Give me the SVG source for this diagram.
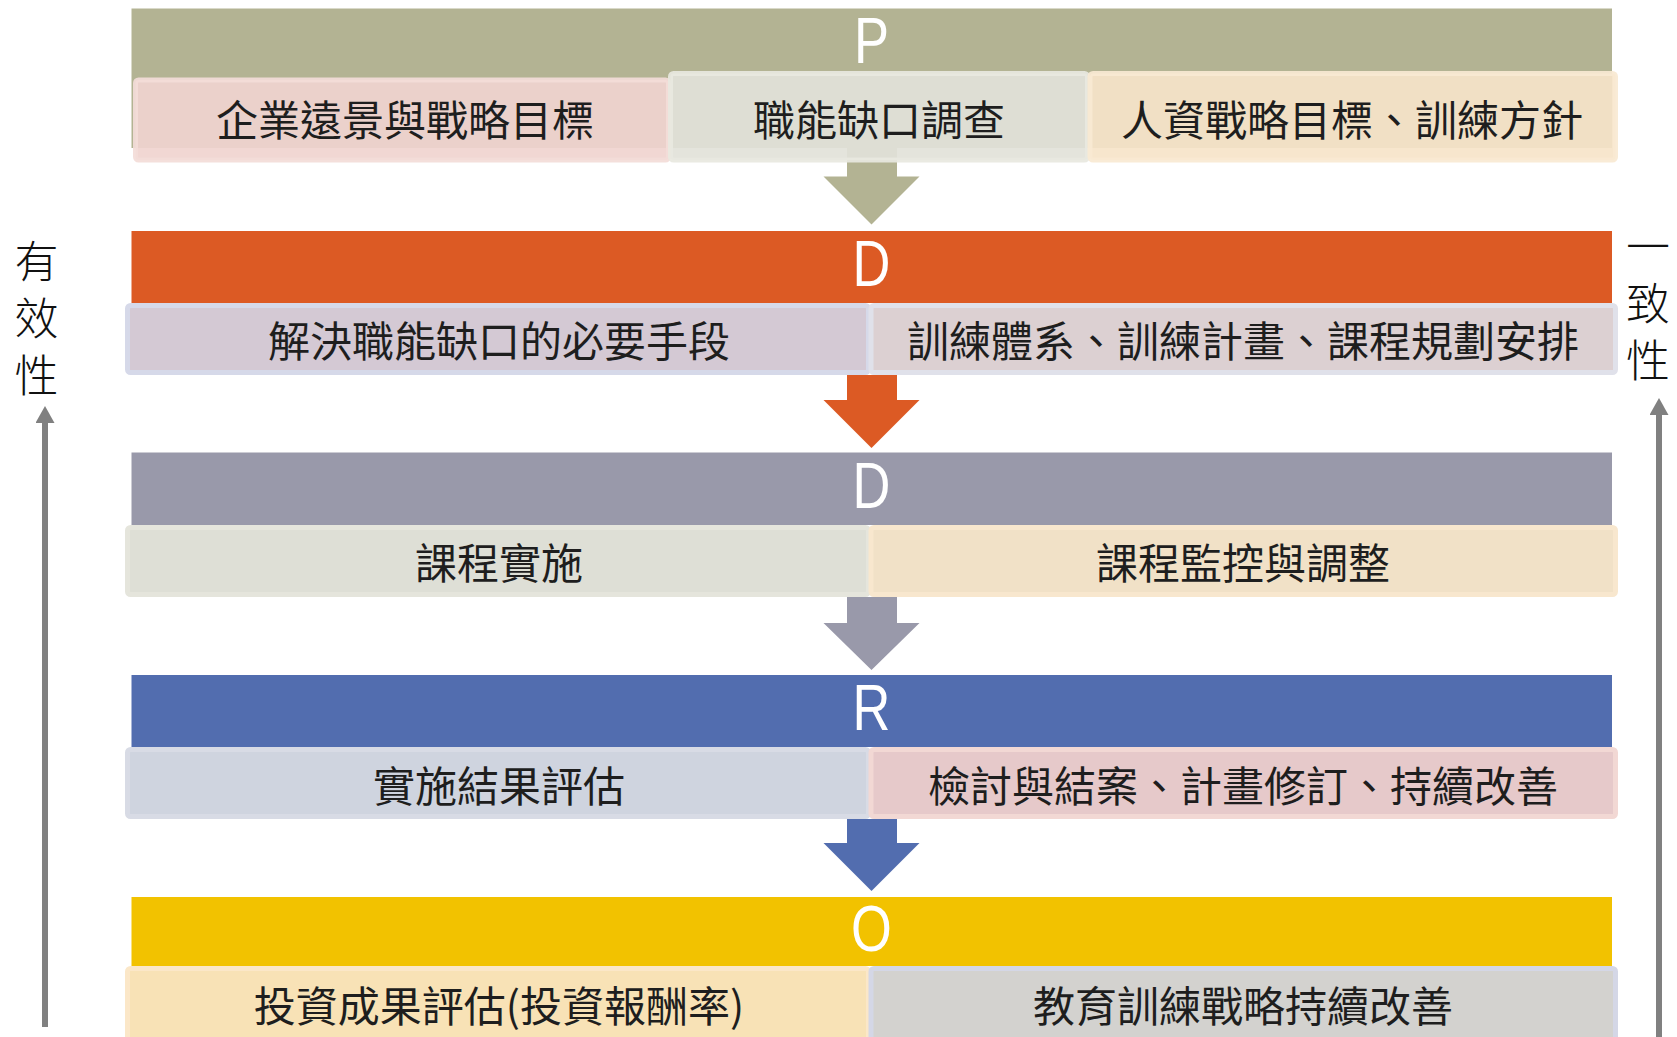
<svg xmlns="http://www.w3.org/2000/svg" width="1677" height="1037" viewBox="0 0 1677 1037">
<style>
.hdr{stroke:none}
.letter{font-family:"Liberation Sans","Arial",sans-serif;font-size:64px;fill:#ffffff;text-anchor:middle}
.lbl{font-family:"Noto Sans CJK TC","Noto Sans CJK SC",sans-serif;font-size:42px;fill:#1e1e1e;text-anchor:middle;dominant-baseline:central}
.side{font-family:"Noto Sans CJK TC","Noto Sans CJK SC",sans-serif;font-size:44px;fill:#111111;writing-mode:vertical-rl;letter-spacing:13px;font-weight:300}
.box{stroke-width:5}
.sideline{stroke:#808080;stroke-width:6;fill:none}
</style>
<defs>
<marker id="sidehead" markerUnits="userSpaceOnUse" markerWidth="20" markerHeight="20" viewBox="0 0 20 20" refX="1" refY="9.5" orient="auto">
<path d="M0,0 L17,9.5 L0,19 Z" fill="#808080"/>
</marker>
</defs>
<rect width="1677" height="1037" fill="#ffffff"/>

<g id="connectors">
<polygon points="847,148 897,148 897,176.5 919.5,176.5 871.5,224.5 823.5,176.5 847,176.5" fill="#b3b393"/>
<polygon points="847,375 897,375 897,400 919.5,400 871.5,448 823.5,400 847,400" fill="#dc5a24"/>
<polygon points="847,597 897,597 897,623 919.5,623 871.5,670 823.5,623 847,623" fill="#9999aa"/>
<polygon points="847,819 897,819 897,843 919.5,843 871.5,891 823.5,843 847,843" fill="#526daf"/>
<line class="sideline" x1="45" y1="1027" x2="45" y2="422" marker-end="url(#sidehead)"/>
<line class="sideline" x1="1659" y1="1037" x2="1659" y2="414" marker-end="url(#sidehead)"/>
</g>

<g id="node-P">
<rect class="hdr" x="131.5" y="8.5" width="1480.5" height="139.5" fill="#b3b393"/>
<text class="letter" transform="translate(871.5,63) scale(0.82,1)">P</text>
</g>
<g id="node-P-1">
<rect class="box" x="135.5" y="80" width="533" height="80" rx="3" fill="#f0d4cf" stroke="#f3dcd8" fill-opacity="0.92" stroke-opacity="0.92"/>
<text class="lbl" x="405" y="117.6">企業遠景與戰略目標</text>
</g>
<g id="node-P-2">
<rect class="box" x="670.5" y="73.5" width="417" height="86.5" rx="3" fill="#e2e2d9" stroke="#e8e8e0" fill-opacity="0.92" stroke-opacity="0.92"/>
<text class="lbl" x="879" y="117.6">職能缺口調查</text>
</g>
<g id="node-P-3">
<rect class="box" x="1090" y="73.5" width="525.5" height="86.5" rx="3" fill="#f6e4c9" stroke="#f8e9d2" fill-opacity="0.92" stroke-opacity="0.92"/>
<text class="lbl" x="1352" y="117.6">人資戰略目標、訓練方針</text>
</g>

<g id="node-D1">
<rect class="hdr" x="131.5" y="231" width="1480.5" height="72" fill="#dc5a24"/>
<text class="letter" transform="translate(871.5,286) scale(0.82,1)">D</text>
</g>
<g id="node-D1-1">
<rect class="box" x="127.5" y="305.5" width="741" height="67" rx="3" fill="#d4c9d4" stroke="#d6d9e9"/>
<text class="lbl" x="499" y="338">解決職能缺口的必要手段</text>
</g>
<g id="node-D1-2">
<rect class="box" x="871" y="305.5" width="744.5" height="67" rx="3" fill="#dcd0d2" stroke="#e0e1ea"/>
<text class="lbl" x="1243" y="338">訓練體系、訓練計畫、課程規劃安排</text>
</g>

<g id="node-D2">
<rect class="hdr" x="131.5" y="452.5" width="1480.5" height="72.5" fill="#9999aa"/>
<text class="letter" transform="translate(871.5,507.5) scale(0.82,1)">D</text>
</g>
<g id="node-D2-1">
<rect class="box" x="127.5" y="527.5" width="741" height="67" rx="3" fill="#dedfd6" stroke="#e5e5dc"/>
<text class="lbl" x="499" y="560.5">課程實施</text>
</g>
<g id="node-D2-2">
<rect class="box" x="871" y="527.5" width="744.5" height="67" rx="3" fill="#f1e1c7" stroke="#f8e7ce"/>
<text class="lbl" x="1243" y="560.5">課程監控與調整</text>
</g>

<g id="node-R">
<rect class="hdr" x="131.5" y="675" width="1480.5" height="72" fill="#526daf"/>
<text class="letter" transform="translate(871.5,730) scale(0.82,1)">R</text>
</g>
<g id="node-R-1">
<rect class="box" x="127.5" y="749.5" width="741" height="67" rx="3" fill="#cfd4df" stroke="#d8dbe5"/>
<text class="lbl" x="499" y="783">實施結果評估</text>
</g>
<g id="node-R-2">
<rect class="box" x="871" y="749.5" width="744.5" height="67" rx="3" fill="#e6c9ca" stroke="#f2d8d4"/>
<text class="lbl" x="1243" y="783">檢討與結案、計畫修訂、持續改善</text>
</g>

<g id="node-O">
<rect class="hdr" x="131.5" y="897" width="1480.5" height="69" fill="#f2c200"/>
<text class="letter" transform="translate(871.5,951) scale(0.82,1)">O</text>
</g>
<g id="node-O-1">
<rect class="box" x="127.5" y="968.5" width="741" height="72" rx="3" fill="#f8e2b6" stroke="#fbe7c8"/>
<text class="lbl" x="499" y="1003">投資成果評估(投資報酬率)</text>
</g>
<g id="node-O-2">
<rect class="box" x="871" y="968.5" width="744.5" height="72" rx="3" fill="#d3d2cf" stroke="#d4d7e6"/>
<text class="lbl" x="1243" y="1003">教育訓練戰略持續改善</text>
</g>

<g id="label-left">
<text class="side" x="36.5" y="239">有效性</text>
</g>
<g id="label-right">
<text class="side" x="1648" y="224">一致性</text>
</g>
</svg>
